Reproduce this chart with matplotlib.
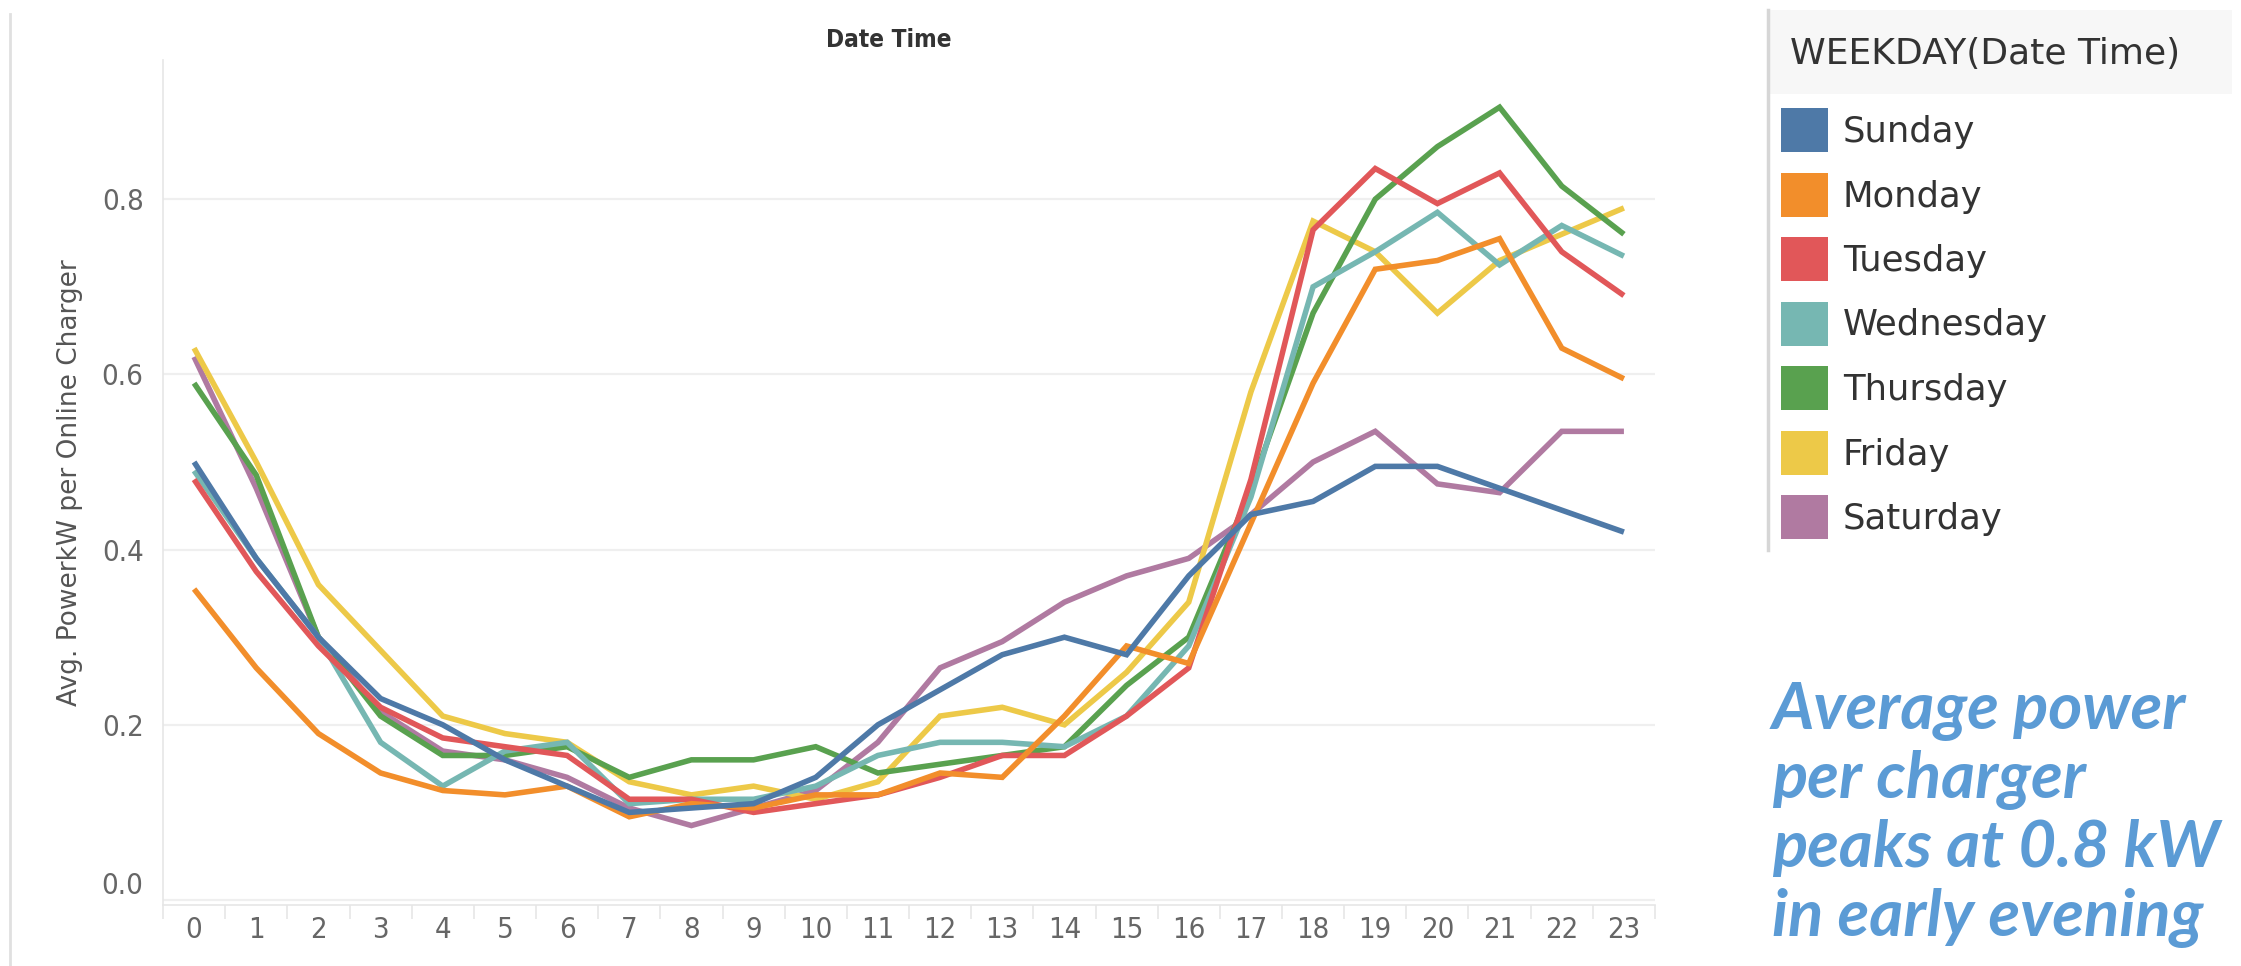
import matplotlib
matplotlib.use("Agg")
import matplotlib.pyplot as plt
from matplotlib.patches import Rectangle
from matplotlib.lines import Line2D
from matplotlib.ticker import FixedLocator

hours = list(range(24))
days = ["Sunday", "Monday", "Tuesday", "Wednesday", "Thursday", "Friday", "Saturday"]
colors = ["#4e79a7", "#f28e2b", "#e15759", "#76b7b2", "#59a14f", "#edc948", "#b07aa1"]

sunday = [0.50, 0.39, 0.30, 0.23, 0.20, 0.16, 0.13, 0.10, 0.105, 0.11, 0.14, 0.20,
          0.24, 0.28, 0.30, 0.28, 0.37, 0.44, 0.455, 0.495, 0.495, 0.47, 0.445, 0.42]
monday = [0.355, 0.265, 0.19, 0.145, 0.125, 0.12, 0.13, 0.095, 0.11, 0.105, 0.12, 0.12,
          0.145, 0.14, 0.21, 0.29, 0.27, 0.43, 0.59, 0.72, 0.73, 0.755, 0.63, 0.595]
tuesday = [0.48, 0.375, 0.29, 0.22, 0.185, 0.175, 0.165, 0.115, 0.115, 0.10, 0.11, 0.12,
           0.14, 0.165, 0.165, 0.21, 0.265, 0.48, 0.765, 0.835, 0.795, 0.83, 0.74, 0.69]
wednesday = [0.49, 0.39, 0.30, 0.18, 0.13, 0.17, 0.18, 0.11, 0.115, 0.115, 0.13, 0.165,
             0.18, 0.18, 0.175, 0.21, 0.29, 0.46, 0.70, 0.74, 0.785, 0.725, 0.77, 0.735]
thursday = [0.59, 0.485, 0.30, 0.21, 0.165, 0.165, 0.175, 0.14, 0.16, 0.16, 0.175, 0.145,
            0.155, 0.165, 0.175, 0.245, 0.30, 0.47, 0.67, 0.80, 0.86, 0.905, 0.815, 0.76]
friday = [0.63, 0.50, 0.36, 0.285, 0.21, 0.19, 0.18, 0.135, 0.12, 0.13, 0.115, 0.135,
          0.21, 0.22, 0.20, 0.26, 0.34, 0.58, 0.775, 0.74, 0.67, 0.73, 0.76, 0.79]
saturday = [0.62, 0.47, 0.30, 0.215, 0.17, 0.16, 0.14, 0.105, 0.085, 0.105, 0.125, 0.18,
            0.265, 0.295, 0.34, 0.37, 0.39, 0.44, 0.50, 0.535, 0.475, 0.465, 0.535, 0.535]
series = [sunday, monday, tuesday, wednesday, thursday, friday, saturday]

y_ticks = [0.0, 0.2, 0.4, 0.6, 0.8]

W, H = 2241, 966
fig = plt.figure(figsize=(W / 100, H / 100), dpi=100)

def fx(x):
    return x / W

def fy(y):
    return 1 - y / H

ax_left, ax_right, ax_top, ax_bottom = 163, 1655, 60, 905
ax = fig.add_axes([fx(ax_left), fy(ax_bottom), (ax_right - ax_left) / W, (ax_bottom - ax_top) / H])
for i in range(len(days) - 1, -1, -1):
    ax.plot(hours, series[i], color=colors[i], lw=4.0, solid_joinstyle="miter",
            solid_capstyle="butt", zorder=3 + (len(days) - i))

ax.set_xlim(-0.5, 23.5)
ax.set_ylim(-5 / 876, 840 / 876)
ax.set_xticks(hours)
ax.set_xticklabels([str(h) for h in hours])
ax.xaxis.set_minor_locator(FixedLocator([h - 0.5 for h in hours] + [23.5]))
ax.set_yticks(y_ticks)
ax.set_yticklabels([f"{v:.1f}" for v in y_ticks])
ax.tick_params(axis="x", which="major", length=0, pad=8, labelsize=21, labelcolor="#666666")
ax.tick_params(axis="x", which="minor", length=10, width=1.2, color="#e6e6e6", direction="out")
ax.tick_params(axis="y", which="major", length=0, pad=14, labelsize=21, labelcolor="#666666")
for lab in ax.get_xticklabels() + ax.get_yticklabels():
    lab.set_family("DejaVu Sans")
    lab.set_stretch("condensed")
ax.get_yticklabels()[0].set_va("bottom")

ax.grid(axis="y", color="#efefef", lw=1.6, zorder=0)
ax.grid(axis="x", visible=False)
ax.set_axisbelow(True)
for s in ["top", "right"]:
    ax.spines[s].set_visible(False)
ax.spines["left"].set_color("#e6e6e6")
ax.spines["left"].set_linewidth(1.2)
ax.spines["bottom"].set_color("#e6e6e6")
ax.spines["bottom"].set_linewidth(1.2)

ax.set_ylabel("Avg. PowerkW per Online Charger", fontsize=19, color="#555555",
              family="DejaVu Sans")
ax.yaxis.set_label_coords((83 - ax_left) / (ax_right - ax_left), 0.5)

fig.text(fx(889), fy(40), "Date Time", ha="center", va="center", fontsize=17.5,
         fontweight="bold", color="#333333", family="DejaVu Sans", stretch="condensed")

# page border line
fig.add_artist(Line2D([fx(10), fx(10)], [fy(14), fy(966)], color="#e0e0e0", lw=2))

# legend panel
fig.add_artist(Rectangle((fx(1770), fy(94)), (2232 - 1770) / W, (94 - 10) / H,
                         facecolor="#f7f7f7", edgecolor="none"))
fig.add_artist(Line2D([fx(1768), fx(1768)], [fy(10), fy(550)], color="#d6d6d6", lw=2.5))
fig.text(fx(1790), fy(54), "WEEKDAY(Date Time)", ha="left", va="center", fontsize=26,
         color="#333333", family="DejaVu Sans")
entry_y0, entry_dy = 130, 64.5
for i, d in enumerate(days):
    yc = entry_y0 + i * entry_dy
    fig.add_artist(Rectangle((fx(1781), fy(yc + 22)), 47 / W, 44 / H,
                             facecolor=colors[i], edgecolor="none"))
    fig.text(fx(1843), fy(yc + 2), d, ha="left", va="center", fontsize=25.5,
             color="#333333", family="DejaVu Sans")

# annotation
note_lines = ["Average power", "per charger", "peaks at 0.8 kW", "in early evening"]
baselines = [729, 798, 867, 936]
for line, yb in zip(note_lines, baselines):
    fig.text(fx(1772), fy(yb), line, ha="left", va="baseline", fontsize=47,
             color="#5b9bd5", style="italic", fontweight="bold", family=["Lato", "DejaVu Sans"])

fig.savefig("out.png", dpi=100, facecolor="white")
